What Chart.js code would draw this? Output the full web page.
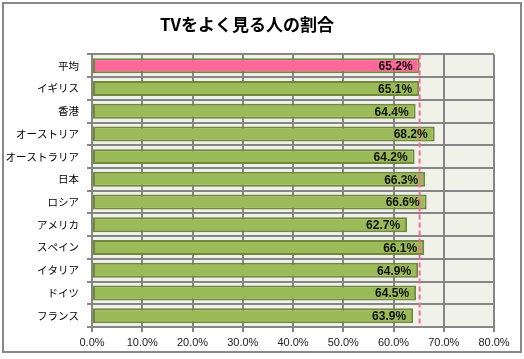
<!DOCTYPE html>
<html>
<head>
<meta charset="utf-8">
<script src="https://cdn.jsdelivr.net/npm/chart.js@4/dist/chart.umd.min.js"></script>
<style>
  body { margin: 0; background: #fff; }
  #wrap { width: 524px; height: 359px; }
</style>
</head>
<body>
<div id="wrap"><canvas id="tvchart" width="524" height="359"></canvas></div>
<script>
var countries = ['平均', 'イギリス', '香港', 'オーストリア', 'オーストラリア', '日本', 'ロシア', 'アメリカ', 'スペイン', 'イタリア', 'ドイツ', 'フランス'];
var ratios = [65.2, 65.1, 64.4, 68.2, 64.2, 66.3, 66.6, 62.7, 66.1, 64.9, 64.5, 63.9];
var averageValue = 65.2;
var xTicks = [0, 10, 20, 30, 40, 50, 60, 70, 80];

var barColors = countries.map(function (c, i) { return i === 0 ? '#ff6699' : '#9bbb59'; });

// plot background, average line, labels, outer frame
var extras = {
  id: 'extras',
  beforeDraw: function (chart) {
    var ctx = chart.ctx, a = chart.chartArea;
    ctx.save();
    ctx.fillStyle = '#fff';
    ctx.fillRect(0, 0, chart.width, chart.height);
    ctx.fillStyle = '#f0f2ea';
    ctx.fillRect(a.left, a.top, a.right - a.left, a.bottom - a.top);
    ctx.restore();
  },
  afterDatasetsDraw: function (chart) {
    var ctx = chart.ctx, a = chart.chartArea;
    var x = chart.scales.x.getPixelForValue(averageValue);
    ctx.save();
    ctx.strokeStyle = '#ff6699';
    ctx.lineWidth = 2;
    ctx.setLineDash([5, 3]);
    ctx.beginPath();
    ctx.moveTo(x, a.top);
    ctx.lineTo(x, a.bottom);
    ctx.stroke();
    ctx.setLineDash([]);

    ctx.font = 'bold 12px "Liberation Sans", Arial, sans-serif';
    ctx.fillStyle = '#111';
    ctx.textAlign = 'right';
    ctx.textBaseline = 'middle';
    chart.getDatasetMeta(0).data.forEach(function (bar, i) {
      ctx.fillText(ratios[i].toFixed(1) + '%', bar.x - 7, bar.y + 1);
    });

    ctx.strokeStyle = '#888';
    ctx.lineWidth = 2;
    ctx.strokeRect(3, 3, 518, 349);
    ctx.restore();
  }
};

var ctx = document.getElementById('tvchart');
var tvchart = new Chart(ctx, {
  type: 'bar',
  data: {
    labels: countries,
    datasets: [{
      label: 'TVをよく見る人の割合',
      data: ratios,
      backgroundColor: barColors,
      borderColor: '#71893f',
      borderWidth: 2,
      borderSkipped: false,
      categoryPercentage: 1,
      barPercentage: 0.66
    }]
  },
  options: {
    indexAxis: 'y',
    responsive: false,
    animation: false,
    layout: { padding: { top: 14, right: 30, bottom: 8, left: 0 } },
    plugins: {
      legend: { display: false },
      tooltip: { enabled: false },
      title: {
        display: true,
        text: 'TVをよく見る人の割合',
        color: '#000',
        font: { family: '"Noto Sans CJK JP", sans-serif', size: 17, weight: 'bold' },
        padding: { top: 0, bottom: 20 }
      }
    },
    scales: {
      x: {
        min: 0,
        max: 80,
        afterBuildTicks: function (scale) {
          scale.ticks = xTicks.map(function (v) { return { value: v }; });
        },
        afterFit: function (scale) { scale.height = 24; },
        grid: { color: '#868686', lineWidth: 2, tickLength: 5 },
        border: { color: '#868686', width: 2 },
        ticks: {
          color: '#222',
          padding: 4,
          font: { family: '"Liberation Sans", Arial, sans-serif', size: 11 },
          callback: function (v) { return Number(v).toFixed(1) + '%'; }
        }
      },
      y: {
        afterFit: function (scale) { scale.width = 92; },
        grid: { color: '#868686', lineWidth: 2, tickLength: 5, offset: true },
        border: { color: '#868686', width: 2 },
        ticks: {
          color: '#000',
          padding: 8,
          font: { family: '"Noto Sans CJK JP", sans-serif', size: 10.5 }
        }
      }
    }
  },
  plugins: [extras]
});
</script>
</body>
</html>
